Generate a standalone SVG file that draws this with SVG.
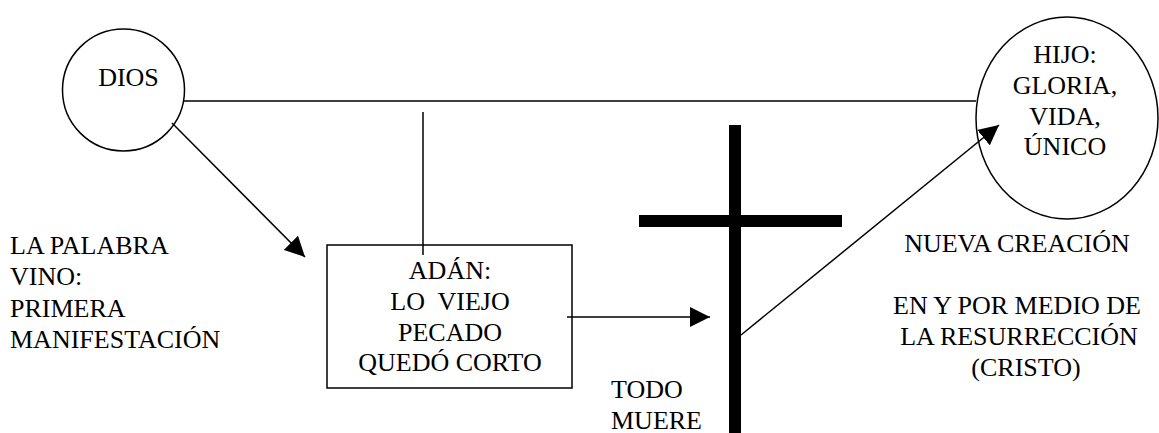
<svg xmlns="http://www.w3.org/2000/svg" width="1159" height="433" viewBox="0 0 1159 433">
<style>
text{font-family:'Liberation Serif',Tinos,'Times New Roman',Times,'Nimbus Roman','DejaVu Serif',serif;font-size:26px;fill:#000}
.c{text-anchor:middle}
.shape{fill:#fff;stroke:#000;stroke-width:1.5}
.ln{stroke:#000;stroke-width:1.5;fill:none}
</style>
<defs>
<marker id="ah" viewBox="0 0 20 20" refX="20" refY="10" markerWidth="20" markerHeight="20" markerUnits="userSpaceOnUse" orient="auto">
<path d="M0,0 L20,10 L0,20 Z" fill="#000"/>
</marker>
</defs>
<rect width="1159" height="433" fill="#fff"/>
<g id="dios">
<circle class="shape" cx="123.5" cy="90" r="61"/>
<text class="c" x="128.5" y="86" font-family="Liberation Serif, serif">DIOS</text>
</g>
<g id="hijo">
<ellipse class="shape" cx="1067" cy="118" rx="91" ry="101"/>
<text class="c" x="1065" y="63">HIJO:</text>
<text class="c" x="1065" y="94">GLORIA,</text>
<text class="c" x="1065" y="125">VIDA,</text>
<text class="c" x="1065" y="155">ÚNICO</text>
</g>
<g id="adan">
<rect class="shape" x="327" y="245" width="245" height="143"/>
<text class="c" x="450" y="279">ADÁN:</text>
<text class="c" x="450" y="310" xml:space="preserve">LO  VIEJO</text>
<text class="c" x="450" y="341">PECADO</text>
<text class="c" x="450" y="371">QUEDÓ CORTO</text>
</g>
<g id="cruz">
<rect x="729" y="125" width="12" height="308" fill="#000"/>
<rect x="639" y="215" width="203" height="12" fill="#000"/>
</g>
<g id="palabra">
<text x="10" y="254">LA PALABRA</text>
<text x="10" y="285">VINO:</text>
<text x="10" y="317">PRIMERA</text>
<text x="10" y="348">MANIFESTACIÓN</text>
</g>
<g id="todo-muere">
<text x="611" y="398">TODO</text>
<text x="611" y="429">MUERE</text>
</g>
<g id="nueva-creacion">
<text class="c" x="1017" y="252">NUEVA CREACIÓN</text>
<text class="c" x="1017" y="314">EN Y POR MEDIO DE</text>
<text class="c" x="1019" y="345">LA RESURRECCIÓN</text>
<text class="c" x="1026" y="376">(CRISTO)</text>
</g>
<g id="connectors">
<line class="ln" x1="184" y1="101" x2="976" y2="101"/>
<line class="ln" x1="423" y1="112" x2="423" y2="255"/>
<line class="ln" x1="172" y1="123" x2="305" y2="257" marker-end="url(#ah)"/>
<line class="ln" x1="567" y1="317" x2="710" y2="317" marker-end="url(#ah)"/>
<line class="ln" x1="741" y1="335" x2="999" y2="125" marker-end="url(#ah)"/>
</g>
</svg>
